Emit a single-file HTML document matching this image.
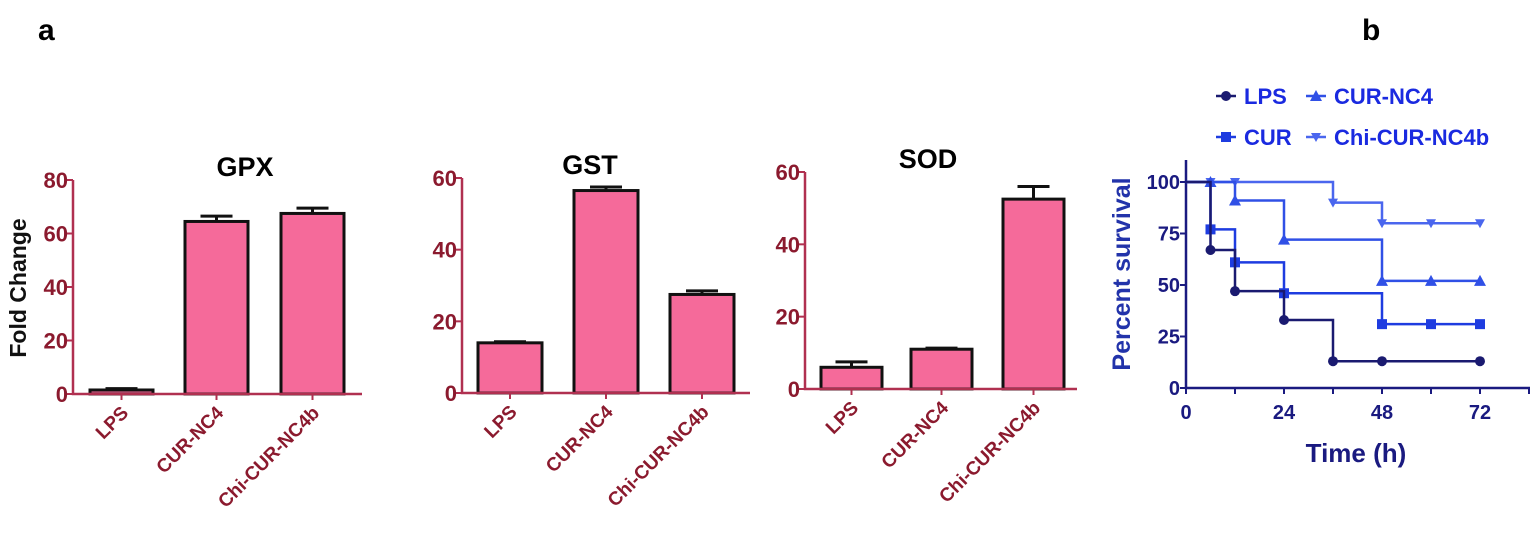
<!DOCTYPE html>
<html><head><meta charset="utf-8"><style>
html,body{margin:0;padding:0;background:#fff;width:1536px;height:537px;overflow:hidden}
svg{display:block;font-family:"Liberation Sans",Arial,sans-serif;font-weight:bold}
</style></head><body>
<svg id="s" width="1536" height="537" xmlns="http://www.w3.org/2000/svg">
<text x="38" y="40" font-size="30" fill="#000">a</text>
<text x="1362" y="40" font-size="30" fill="#000">b</text>
<text transform="translate(26,288) rotate(-90)" text-anchor="middle" font-size="23" fill="#111">Fold Change</text>
<g id="bars"></g>
<g id="surv"></g>
</svg>
<script>
const barCategories = ["LPS","CUR-NC4","Chi-CUR-NC4b"];
const gpxValues = [1.5,64.5,67.5];
const gpxErrors = [0.5,2,2];
const gstValues = [14,56.5,27.5];
const gstErrors = [0.3,1,1];
const sodValues = [6,11,52.5];
const sodErrors = [1.5,0.3,3.5];
const gpxTicks = [0,20,40,60,80];
const gstTicks = [0,20,40,60];
const sodTicks = [0,20,40,60];

const survTimes = [0,6,12,24,36,48,60,72];
const lpsSteps = [[0,100],[6,67],[12,47],[24,33],[36,13],[72,13]];
const lpsMarks = [[6,67],[12,47],[24,33],[36,13],[48,13],[72,13]];
const curSteps = [[0,100],[6,77],[12,61],[24,46],[48,31],[72,31]];
const curMarks = [[6,77],[12,61],[24,46],[48,31],[60,31],[72,31]];
const nc4Steps = [[0,100],[12,91],[24,72],[48,52],[72,52]];
const nc4Marks = [[6,100],[12,91],[24,72],[48,52],[60,52],[72,52]];
const chiSteps = [[0,100],[36,90],[48,80],[72,80]];
const chiMarks = [[6,100],[12,100],[36,90],[48,80],[60,80],[72,80]];
const survYTicks = [0,25,50,75,100];
const survXTicks = [0,24,48,72];

const NS="http://www.w3.org/2000/svg";
function mk(tag,attrs,parent,txt){const e=document.createElementNS(NS,tag);for(const k in attrs)e.setAttribute(k,attrs[k]);if(txt!==undefined)e.textContent=txt;parent.appendChild(e);return e;}
const dark="#8b1a2e", axisC="#b03050";

function barChart(g,name,title,vals,errs,ticks,ax,y0,yTop,xEnd,barX,barW,titleX){
  const max=ticks[ticks.length-1];
  const y=v=>y0-(y0-yTop)*v/max;
  const grp=mk('g',{},g);
  
  
  const t=mk('text',{x:titleX,y:yTop-4,'font-size':27,'text-anchor':'middle',fill:'#000'},grp,title);
  
  
  vals.forEach((v,i)=>{
    const x=barX[i];
    const r=mk('rect',{x:x,y:y(v),width:barW,height:y0-y(v),fill:'#f56a9a',stroke:'#111','stroke-width':3},grp);
    
    
    const cx=x+barW/2, ye=y(v+errs[i]);
    const e=mk('path',{d:`M${cx} ${y(v)}V${ye}M${cx-16} ${ye}H${cx+16}`,stroke:'#111','stroke-width':3,fill:'none'},grp);
    
    
    mk('line',{x1:cx,y1:y0,x2:cx,y2:y0+6,stroke:axisC,'stroke-width':2},grp);
    const lbl=mk('text',{transform:`translate(${cx+8},${y0+20}) rotate(-45)`,'text-anchor':'end','font-size':19,fill:dark},grp,barCategories[i]);
    
    
  });
  const axes=mk('path',{d:`M${ax} ${yTop}V${y0}H${xEnd}`,stroke:axisC,'stroke-width':2.5,fill:'none'},grp);
  
  
  ticks.forEach(tv=>{
    mk('line',{x1:ax-6,y1:y(tv),x2:ax,y2:y(tv),stroke:axisC,'stroke-width':2},grp);
    const tl=mk('text',{x:ax-5,y:y(tv)+8,'text-anchor':'end','font-size':22,fill:dark},grp,tv);
    
    
  });
}
const bg=document.getElementById('bars');
barChart(bg,'gpx','GPX',gpxValues,gpxErrors,gpxTicks,73,394,180,362,[90,185,281],63,245);
barChart(bg,'gst','GST',gstValues,gstErrors,gstTicks,462,393,178,750,[478,574,670],64,590);
barChart(bg,'sod','SOD',sodValues,sodErrors,sodTicks,805,389,172,1077,[821,911,1003],61,928);

const sg=document.getElementById('surv');
const X=t=>1186+t*(294/72), Y=v=>388-v*2.06;
const axP=mk('path',{d:`M1186 160V388H1530`,stroke:'#1a1a80','stroke-width':2.5,fill:'none'},sg);


survYTicks.forEach(v=>{
  mk('line',{x1:1180,y1:Y(v),x2:1186,y2:Y(v),stroke:'#1a1a80','stroke-width':2},sg);
  const t=mk('text',{x:1180,y:Y(v)+7,'text-anchor':'end','font-size':20,fill:'#1a1a80'},sg,v);
  
  
});
[0,12,24,36,48,60,72,84].forEach(v=>mk('line',{x1:X(v),y1:388,x2:X(v),y2:394,stroke:'#1a1a80','stroke-width':2},sg));
survXTicks.forEach(v=>{
  const t=mk('text',{x:X(v),y:419,'text-anchor':'middle','font-size':20,fill:'#1a1a80'},sg,v);
  
  
});
const yt=mk('text',{transform:'translate(1130,274) rotate(-90)','text-anchor':'middle','font-size':25,fill:'#2233aa'},sg,'Percent survival');


const xt=mk('text',{x:1356,y:462,'text-anchor':'middle','font-size':26,fill:'#1a1a80'},sg,'Time (h)');



function marker(g,shape,x,y,c){
  if(shape==='circle') return mk('circle',{cx:x,cy:y,r:5,fill:c},g);
  if(shape==='square') return mk('rect',{x:x-5,y:y-5,width:10,height:10,fill:c},g);
  if(shape==='tri') return mk('path',{d:`M${x} ${y-6}L${x+6} ${y+5}L${x-6} ${y+5}Z`,fill:c},g);
  return mk('path',{d:`M${x-5} ${y-4}L${x+5} ${y-4}L${x} ${y+5}Z`,fill:c},g);
}
function series(name,steps,marks,c,shape){
  const g=mk('g',{},sg);
  
  
  let d=`M${X(steps[0][0])} ${Y(steps[0][1])}`;
  for(let i=1;i<steps.length;i++){d+=`H${X(steps[i][0])}V${Y(steps[i][1])}`;}
  mk('path',{d:d,stroke:c,'stroke-width':2.5,fill:'none'},g);
  marks.forEach(m=>{const e=marker(g,shape,X(m[0]),Y(m[1]),c);
    
    });
}
series('chi-cur-nc4b',chiSteps,chiMarks,'#4a66ee','dtri');
series('cur-nc4',nc4Steps,nc4Marks,'#3050e6','tri');
series('cur',curSteps,curMarks,'#1e3ce0','square');
series('lps',lpsSteps,lpsMarks,'#1a1a70','circle');

const leg=[["LPS",1216,96,'#1a1a70','circle'],["CUR-NC4",1306,96,'#3050e6','tri'],["CUR",1216,137,'#1e3ce0','square'],["Chi-CUR-NC4b",1306,137,'#4a66ee','dtri']];
leg.forEach(l=>{
  const g=mk('g',{},sg);
  
  
  mk('line',{x1:l[1],y1:l[2],x2:l[1]+20,y2:l[2],stroke:l[3],'stroke-width':2.5},g);
  marker(g,l[4],l[1]+10,l[2],l[3]);
  mk('text',{x:l[1]+28,y:l[2]+8,'font-size':22,fill:'#1a2ae0'},g,l[0]);
});
</script>
</body></html>
